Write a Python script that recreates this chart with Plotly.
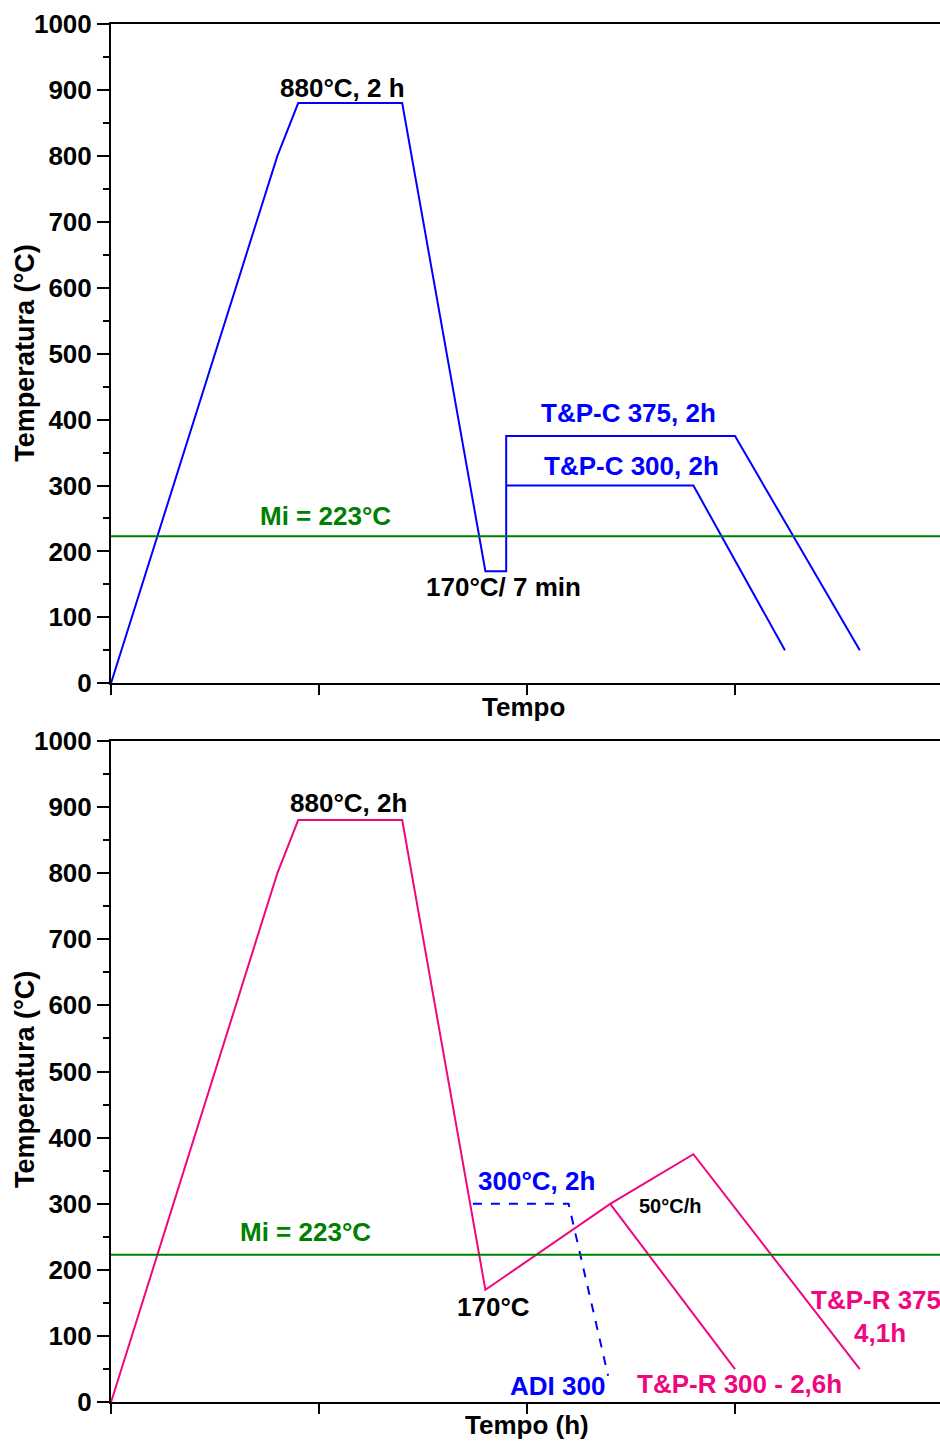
import plotly.graph_objects as go

# ---- thermal cycle data (time in schematic units, temperature in °C) ----
MI_TEMP = 223  # martensite start

# upper panel: T&P-C cycles
top_time = [0, 0.80, 0.90, 1.40, 1.80, 1.90, 1.90, 3.00, 3.60]
top_temp = [0, 800, 880, 880, 170, 170, 375, 375, 50]
top300_time = [1.90, 2.80, 3.24]
top300_temp = [300, 300, 50]

# lower panel: T&P-R cycles
bot_time = [0, 0.80, 0.90, 1.40, 1.80, 2.40, 2.80, 3.60]
bot_temp = [0, 800, 880, 880, 170, 300, 375, 50]
bot300_time = [2.40, 3.00]
bot300_temp = [300, 50]
adi_time = [1.74, 2.20, 2.39]
adi_temp = [300, 300, 40]

y_ticks = list(range(0, 1001, 100))
x_ticks = [0, 1, 2, 3]

BLUE = "#0000FF"
PINK = "#F0067F"
GREEN = "#008000"
FONT = "Liberation Sans, Arial, sans-serif"
FS = 26

W, H = 940, 1442
LEFT_PX = 111
UNIT_PX = 208
X_MAX = (W - LEFT_PX) / UNIT_PX

fig = go.Figure()

fig.add_trace(go.Scatter(x=top_time, y=top_temp, mode="lines",
                         line=dict(color=BLUE, width=2), xaxis="x", yaxis="y"))
fig.add_trace(go.Scatter(x=top300_time, y=top300_temp, mode="lines",
                         line=dict(color=BLUE, width=2), xaxis="x", yaxis="y"))
fig.add_trace(go.Scatter(x=bot_time, y=bot_temp, mode="lines",
                         line=dict(color=PINK, width=2), xaxis="x2", yaxis="y2"))
fig.add_trace(go.Scatter(x=bot300_time, y=bot300_temp, mode="lines",
                         line=dict(color=PINK, width=2), xaxis="x2", yaxis="y2"))
fig.add_trace(go.Scatter(x=adi_time, y=adi_temp, mode="lines",
                         line=dict(color=BLUE, width=2, dash="dash"),
                         xaxis="x2", yaxis="y2"))

# Ms reference lines
for xr, yr in (("x", "y"), ("x2", "y2")):
    fig.add_shape(type="line", xref=f"{xr} domain", yref=yr, x0=0, x1=1,
                  y0=MI_TEMP, y1=MI_TEMP, line=dict(color=GREEN, width=2))

x_dom = [LEFT_PX / W, 1.0]
top_dom = [1 - 683.3 / H, 1 - 24 / H]
bot_dom = [1 - 1402.3 / H, 1 - 740.7 / H]

xaxis_style = dict(range=[0, X_MAX], showline=True, linecolor="black", linewidth=2,
                   mirror=True, ticks="outside", ticklen=10, tickwidth=2,
                   tickcolor="black", tickvals=x_ticks, showticklabels=False,
                   showgrid=False, zeroline=False, domain=x_dom, automargin=False)
yaxis_style = dict(range=[0, 1000], showline=True, linecolor="black", linewidth=2,
                   ticks="outside", ticklen=12, tickwidth=2, tickcolor="black",
                   tickvals=y_ticks, showgrid=False, zeroline=False, automargin=False,
                   tickfont=dict(family=FONT, size=FS, color="black", weight="bold"),
                   minor=dict(dtick=50, ticks="outside", ticklen=6, tickwidth=2,
                              tickcolor="black", showgrid=False))

fig.update_layout(
    width=W, height=H,
    margin=dict(l=0, r=0, t=0, b=0, autoexpand=False),
    paper_bgcolor="white", plot_bgcolor="white",
    showlegend=False,
    xaxis=dict(**xaxis_style, anchor="y"),
    yaxis=dict(**yaxis_style, domain=top_dom, anchor="x"),
    xaxis2=dict(**xaxis_style, anchor="y2"),
    yaxis2=dict(**yaxis_style, domain=bot_dom, anchor="x2"),
)


def label(text, x, y, color="black", size=FS, xref="x", yref="y",
          xanchor="center", textangle=0):
    fig.add_annotation(text=text, x=x, y=y, xref=xref, yref=yref,
                       xanchor=xanchor, yanchor="middle", showarrow=False,
                       textangle=textangle,
                       font=dict(family=FONT, size=size, color=color, weight="bold"))


# upper panel labels
label("880°C, 2 h", 1.115, 903)
label("Mi = 223°C", 1.029, 254, GREEN)
label("T&P-C 375, 2h", 2.486, 410, BLUE)
label("T&P-C 300, 2h", 2.50, 330, BLUE)
label("170°C/ 7 min", 1.885, 146)
label("Tempo", 523 / W, 1 - 707 / H, xref="paper", yref="paper")
label("Temperatura (°C)", 25 / W, 500, size=27, xref="paper", yref="y", textangle=-90)

# lower panel labels
label("880°C, 2h", 1.144, 906, xref="x2", yref="y2")
label("Mi = 223°C", 0.933, 257, GREEN, xref="x2", yref="y2")
label("300°C, 2h", 2.048, 334, BLUE, xref="x2", yref="y2")
label("50°C/h", 2.688, 297, size=20, xref="x2", yref="y2")
label("170°C", 1.837, 144, xref="x2", yref="y2")
label("ADI 300", 2.149, 25, BLUE, xref="x2", yref="y2")
label("T&P-R 300 - 2,6h", 3.024, 28, PINK, xref="x2", yref="y2")
label("T&P-R 375", 3.356, 155, PINK, xref="x2", yref="y2", xanchor="left")
label("4,1h", 3.697, 105, PINK, xref="x2", yref="y2")
label("Tempo (h)", 527 / W, 1 - 1425 / H, xref="paper", yref="paper")
label("Temperatura (°C)", 25 / W, 487, size=27, xref="paper", yref="y2", textangle=-90)

fig.write_html("out.html")
